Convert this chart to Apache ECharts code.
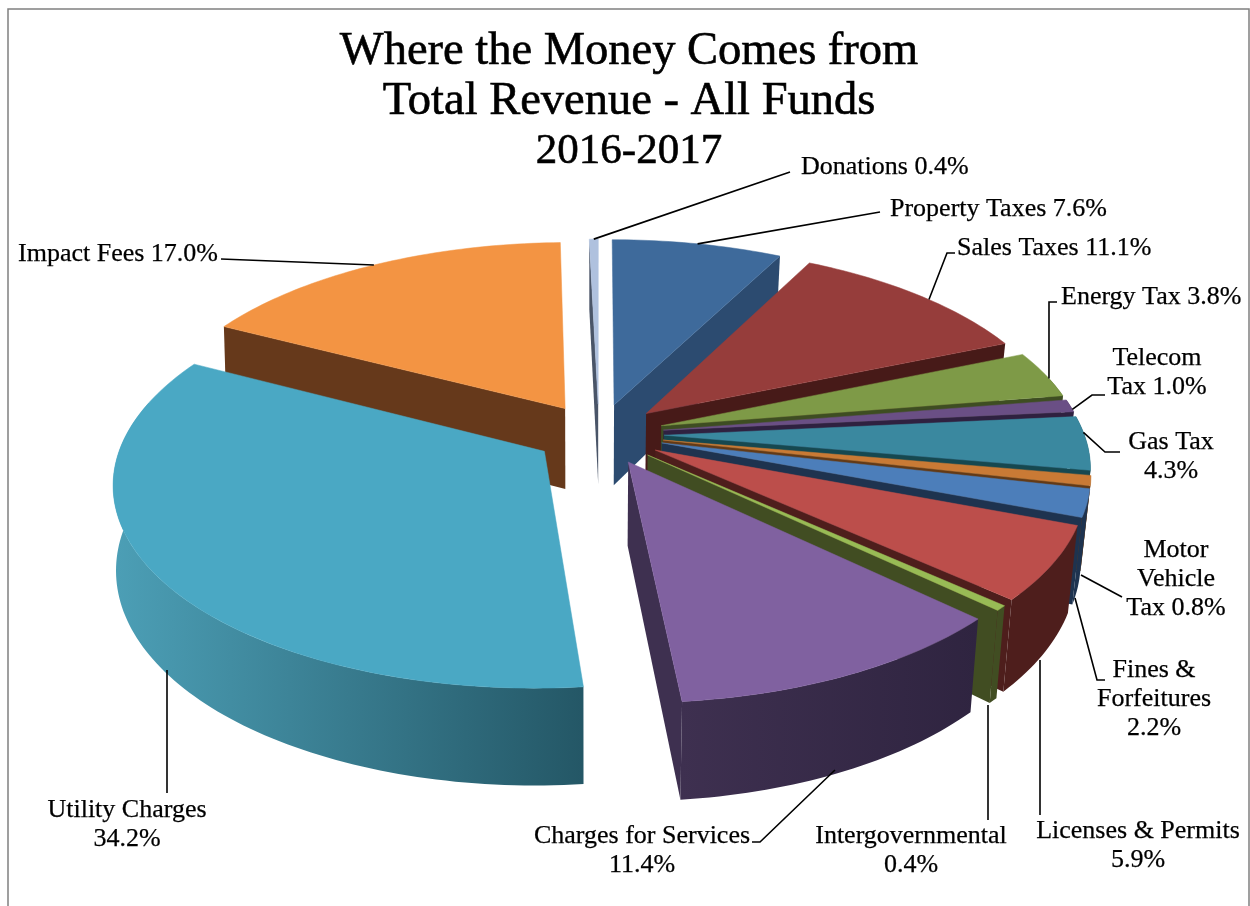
<!DOCTYPE html>
<html>
<head>
<meta charset="utf-8">
<style>html,body{margin:0;padding:0;background:#fff}#c{width:1250px;height:906px}</style>
<script src="https://cdn.jsdelivr.net/npm/echarts@6/dist/echarts.min.js"></script>
</head>
<body>
<div id="c"></div>
<script>
const categories = ['Property Taxes','Sales Taxes','Energy Tax','Telecom Tax','Gas Tax','Motor Vehicle Tax','Fines & Forfeitures','Licenses & Permits','Intergovernmental','Charges for Services','Utility Charges','Impact Fees','Donations'];
const shares = [7.6,11.1,3.8,1.0,4.3,0.8,2.2,5.9,0.4,11.4,34.2,17.0,0.4];
const labelTexts = ['Property Taxes 7.6%','Sales Taxes 11.1%','Energy Tax 3.8%','Telecom\nTax 1.0%','Gas Tax\n4.3%','Motor\nVehicle\nTax 0.8%','Fines &\nForfeitures\n2.2%','Licenses & Permits\n5.9%','Intergovernmental\n0.4%','Charges for Services\n11.4%','Utility Charges\n34.2%','Impact Fees 17.0%','Donations 0.4%'];
const titleLines = ['Where the Money Comes from','Total Revenue - All Funds','2016-2017'];

const topColors = ['#3E6A9B','#963D3B','#7E9A47','#6A4F85','#3A889F','#C97A35','#4C7EBA','#BC4E4B','#98BB55','#8061A0','#4AA8C4','#F39443','#AFC1DE'];
const wallColors = [['#2C4B70','#2C4B70'],['#471A18','#471A18'],['#3E4D22','#3E4D22'],['#2F2140','#2F2140'],['#164850','#164850'],['#633A16','#633A16'],['#1E334F','#1E334F'],['#4E1E1C','#4E1E1C'],['#414D22','#414D22'],['#3E3050','#2F2440'],['#4C9FB6','#245766'],['#66391B','#66391B'],['#4A5568','#4A5568']];
const drawOrder = [11,12,0,1,2,3,4,5,6,7,8,9,10];

// leader and label placement: rim fraction or fixed start, elbows, text anchor
const leaderLayout = [
  {f:.50,via:[[880,212]],x:890,y:209,align:'left'},
  {f:.55,via:[[947,253],[955,253]],x:957,y:248,align:'left'},
  {f:.60,via:[[1049,302],[1057,302]],x:1061,y:297,align:'left'},
  {f:.80,via:[[1092,395],[1105,395]],x:1157,y:373,align:'center'},
  {f:.30,via:[[1105,452],[1120,452]],x:1171,y:457,align:'center'},
  {from:[1081,575],via:[[1122,597]],x:1176,y:579,align:'center'},
  {from:[1075,598],via:[[1097,680],[1105,680]],x:1154,y:699,align:'center'},
  {from:[1040,660],via:[[1040,815]],x:1138,y:846,align:'center'},
  {from:[988,705],via:[[988,820]],x:911,y:851,align:'center'},
  {from:[835,770],via:[[760,842],[752,842]],x:642,y:851,align:'center'},
  {from:[167,670],via:[[167,793]],x:127,y:825,align:'center'},
  {f:.50,via:[[221,259]],x:18,y:254,align:'left'},
  {f:.50,via:[[790,172]],x:801,y:167,align:'left'}
];

const CX=599, CY=434, RX=420, RY=197, PERSP=.145, HEIGHT=82, EXPLODE=.155, FOOT_SHRINK_L=.994, FOOT_SHRINK_R=.98;
const total = shares.reduce((a,b)=>a+b,0);
const starts = []; shares.reduce((a,b,i)=>{starts[i]=a;return a+b;},0);
const toAngle = p => p/total*Math.PI*2;

function project(u,v,foot){
  const s = 1/(1-PERSP*v);
  const k = foot ? (u<0?FOOT_SHRINK_L:FOOT_SHRINK_R) : 1;
  return [CX+RX*u*s*k, CY+RY*v*s+(foot?HEIGHT*s:0)];
}
function renderSlice(params){
  const i = params.dataIndex;
  const a0 = toAngle(starts[i]), a1 = toAngle(starts[i]+shares[i]);
  const mid = (a0+a1)/2;
  const ou = EXPLODE*Math.sin(mid), ov = -EXPLODE*Math.cos(mid);
  const rim = (a,foot)=>project(ou+Math.sin(a),ov-Math.cos(a),foot);
  const apex = foot=>project(ou,ov,foot);
  const arc = (from,to)=>{const n=Math.max(2,Math.ceil(Math.abs(to-from)/.02));const r=[];for(let k=0;k<=n;k++)r.push(from+(to-from)*k/n);return r;};
  const rank = drawOrder.indexOf(i)*10+10;
  const wall = wallColors[i];
  const fill = new echarts.graphic.LinearGradient(0,0,1,0,[{offset:0,color:wall[0]},{offset:1,color:wall[1]}]);
  const flat = wall[0];
  const children = [];
  if(Math.sin(a1)>0) children.push({type:'polygon',z2:rank,shape:{points:[apex(0),rim(a1,0),rim(a1,1),apex(1)]},style:{fill:flat}});
  if(Math.sin(a0)<0) children.push({type:'polygon',z2:rank,shape:{points:[apex(0),rim(a0,0),rim(a0,1),apex(1)]},style:{fill:flat}});
  const w0=Math.max(a0,Math.PI*.42), w1=Math.min(a1,Math.PI*1.58);
  if(w1>w0){
    const as=arc(w0,w1);
    children.push({type:'polygon',z2:rank+1,shape:{points:as.map(a=>rim(a,0)).concat(as.slice().reverse().map(a=>rim(a,1)))},style:{fill}});
  }
  children.push({type:'polygon',z2:rank+2,shape:{points:[apex(0)].concat(arc(a0,a1).map(a=>rim(a,0)))},style:{fill:topColors[i],stroke:topColors[i],lineWidth:.5}});
  const L=leaderLayout[i];
  const anchor=L.from||rim(a0+(a1-a0)*L.f,0);
  children.push({type:'polyline',z2:1000,shape:{points:[anchor].concat(L.via)},style:{fill:null,stroke:'#000',lineWidth:1.6}});
  children.push({type:'text',z2:1001,style:{text:labelTexts[i],x:L.x,y:L.y,align:L.align,verticalAlign:'middle',font:'26px "Liberation Serif"',lineHeight:29,fill:'#000',stroke:'#000',lineWidth:.25}});
  return {type:'group',children};
}

const chart = echarts.init(document.getElementById('c'),null,{renderer:'canvas'});
chart.setOption({
  animation:false,
  backgroundColor:'#fff',
  graphic:[{type:'rect',silent:true,z:-1,shape:{x:8,y:9,width:1241,height:920},style:{fill:'#fff',stroke:'#808080',lineWidth:1.5}}],
  title:{text:titleLines[0]+'\n'+titleLines[1]+'\n{y|'+titleLines[2]+'}',left:624,top:22,textAlign:'center',
    textStyle:{fontFamily:'Liberation Serif',fontSize:46.5,fontWeight:'normal',color:'#000',lineHeight:50,textBorderColor:'#000',textBorderWidth:.6,
      rich:{y:{fontFamily:'Liberation Serif',fontSize:43,lineHeight:50,color:'#000',textBorderColor:'#000',textBorderWidth:.6}}}},
  series:[{type:'custom',coordinateSystem:'none',renderItem:renderSlice,data:shares.map((v,i)=>({name:categories[i],value:v}))}]
});
</script>
</body>
</html>
